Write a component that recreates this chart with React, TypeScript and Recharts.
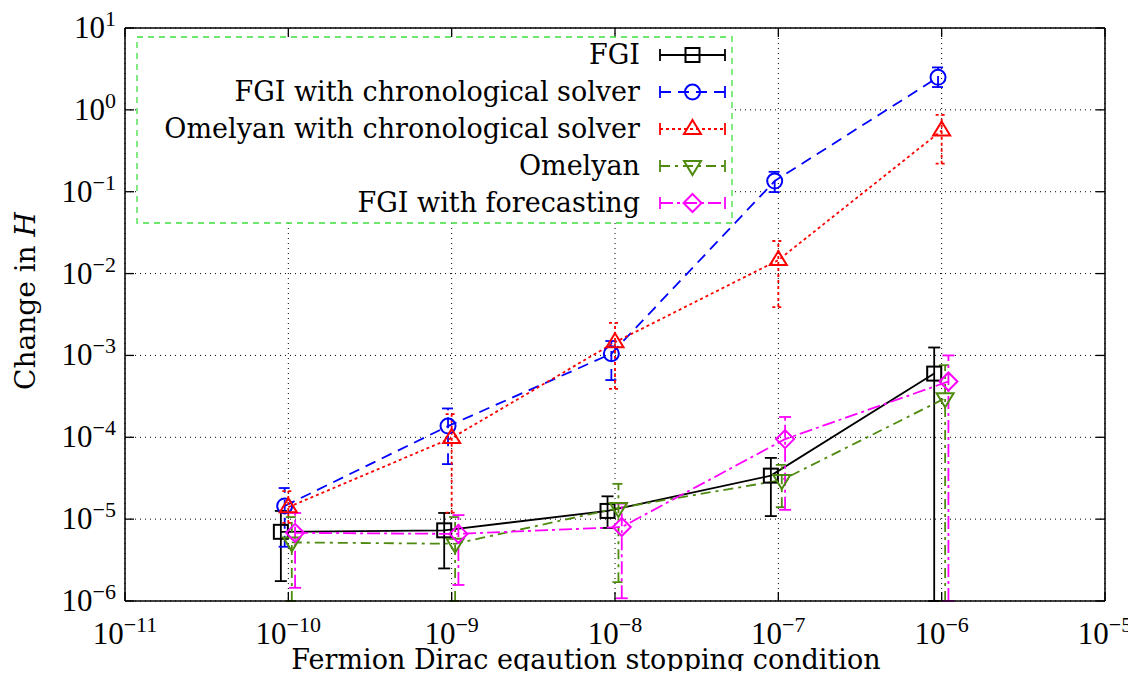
import React from "react"
import { ComposedChart, Line, XAxis, YAxis, CartesianGrid, ErrorBar } from "recharts"

// axis ticks (decades)
const xTicks = [1e-11, 1e-10, 1e-9, 1e-8, 1e-7, 1e-6, 1e-5]
const yTicks = [1e-6, 1e-5, 1e-4, 1e-3, 1e-2, 1e-1, 1e0, 1e1]

// FGI
const fgiX = [0.9e-10, 0.9e-9, 0.9e-8, 0.9e-7, 0.9e-6]
const fgiY = [7.0e-6, 7.3e-6, 1.26e-5, 3.4e-5, 6.0e-4]
const fgiLo = [1.75e-6, 2.5e-6, 7.8e-6, 1.09e-5, 1e-6]
const fgiHi = [1.26e-5, 1.19e-5, 1.9e-5, 5.6e-5, 1.25e-3]

// FGI with chronological solver
const fgiChronoX = [0.95e-10, 0.95e-9, 0.95e-8, 0.95e-7, 0.95e-6]
const fgiChronoY = [1.45e-5, 1.37e-4, 1.05e-3, 0.135, 2.5]
const fgiChronoLo = [4.6e-6, 4.7e-5, 5.0e-4, 0.099, 1.9]
const fgiChronoHi = [2.4e-5, 2.25e-4, 1.5e-3, 0.175, 3.3]

// Omelyan with chronological solver
const omChronoX = [1.0e-10, 1.0e-9, 1.0e-8, 1.0e-7, 1.0e-6]
const omChronoY = [1.4e-5, 9.8e-5, 1.45e-3, 0.0146, 0.56]
const omChronoLo = [9e-6, 1.2e-5, 3.9e-4, 3.9e-3, 0.22]
const omChronoHi = [2.2e-5, 1.92e-4, 2.5e-3, 0.025, 0.87]

// Omelyan
const omX = [1.05e-10, 1.05e-9, 1.05e-8, 1.05e-7, 1.05e-6]
const omY = [5.2e-6, 5.0e-6, 1.37e-5, 3.0e-5, 3.0e-4]
const omLo = [1e-6, 1e-6, 1.7e-6, 1.4e-5, 1e-6]
const omHi = [1.06e-5, 1.06e-5, 2.7e-5, 4.6e-5, 7.6e-4]

// FGI with forecasting
const forecastX = [1.1e-10, 1.1e-9, 1.1e-8, 1.1e-7, 1.1e-6]
const forecastY = [6.8e-6, 6.6e-6, 8.0e-6, 9.5e-5, 4.8e-4]
const forecastLo = [1.45e-6, 1.57e-6, 1.08e-6, 1.3e-5, 1e-6]
const forecastHi = [1.19e-5, 1.12e-5, 1.55e-5, 1.77e-4, 1.0e-3]

type Pt = { x: number; y: number; lo: number; hi: number }

function toPoints(xs: number[], ys: number[], lo: number[], hi: number[]): Pt[] {
  return xs.map((x, i) => ({ x, y: ys[i], lo: lo[i], hi: hi[i] }))
}

const series = [
  { name: "FGI", color: "#000000", dash: undefined, marker: "square", data: toPoints(fgiX, fgiY, fgiLo, fgiHi) },
  { name: "FGI with chronological solver", color: "#0000ff", dash: "11 7", marker: "circle", data: toPoints(fgiChronoX, fgiChronoY, fgiChronoLo, fgiChronoHi) },
  { name: "Omelyan with chronological solver", color: "#ff0000", dash: "3 3", marker: "triUp", data: toPoints(omChronoX, omChronoY, omChronoLo, omChronoHi) },
  { name: "Omelyan", color: "#4f8a10", dash: "10 5 3 5", marker: "triDown", data: toPoints(omX, omY, omLo, omHi) },
  { name: "FGI with forecasting", color: "#ff00ff", dash: "13 4 3 4", marker: "diamond", data: toPoints(forecastX, forecastY, forecastLo, forecastHi) },
]

const SERIF = "'DejaVu Serif', serif"
const TICK_FONT = "'Liberation Serif', serif"

function Marker({ kind, cx, cy, color }: { kind: string; cx: number; cy: number; color: string }) {
  const common = { fill: "none", stroke: color, strokeWidth: 2 }
  if (kind === "square") return <rect x={cx - 7} y={cy - 7} width={14} height={14} {...common} />
  if (kind === "circle") return <circle cx={cx} cy={cy} r={7.5} {...common} />
  if (kind === "triUp") return <path d={`M${cx},${cy - 9}L${cx + 8.5},${cy + 5}L${cx - 8.5},${cy + 5}Z`} {...common} />
  if (kind === "triDown") return <path d={`M${cx},${cy + 9}L${cx + 8.5},${cy - 5}L${cx - 8.5},${cy - 5}Z`} {...common} />
  return <path d={`M${cx},${cy - 9}L${cx + 9},${cy}L${cx},${cy + 9}L${cx - 9},${cy}Z`} {...common} />
}

function expLabel(v: number) {
  const e = Math.round(Math.log10(v))
  return e < 0 ? "\u2212" + -e : String(e)
}

const BottomTick = (props: any) => {
  const { x, y, payload } = props
  return (
    <g>
      <line x1={x} y1={y} x2={x} y2={y - 9} stroke="#000" strokeWidth={1.3} />
      <text x={x} y={y + 43} textAnchor="middle" fontFamily={TICK_FONT} fontSize={31} fill="#000">
        10<tspan dy={-12} fontSize={22}>{expLabel(payload.value)}</tspan>
      </text>
    </g>
  )
}

const TopTick = (props: any) => {
  const { x, y } = props
  return <line x1={x} y1={y} x2={x} y2={y + 9} stroke="#000" strokeWidth={1.3} />
}

const LeftTick = (props: any) => {
  const { x, y, payload } = props
  return (
    <g>
      <line x1={x} y1={y} x2={x + 9} y2={y} stroke="#000" strokeWidth={1.3} />
      <text x={x - 9} y={y + 10} textAnchor="end" fontFamily={TICK_FONT} fontSize={31} fill="#000">
        10<tspan dy={-12} fontSize={22}>{expLabel(payload.value)}</tspan>
      </text>
    </g>
  )
}

const RightTick = (props: any) => {
  const { x, y } = props
  return <line x1={x} y1={y} x2={x - 9} y2={y} stroke="#000" strokeWidth={1.3} />
}

function LegendBox() {
  const rowY = [47, 84, 121, 158, 195]
  return (
    <g>
      <rect x={129} y={29} width={595} height={186} fill="#fff" stroke="#3fe03f" strokeWidth={1.3} strokeDasharray="6 5" />
      {series.map((s, i) => {
        const cy = rowY[i]
        return (
          <g key={s.name}>
            <text x={632} y={cy + 9} textAnchor="end" fontFamily={SERIF} fontSize={27} fill="#000">
              {s.name}
            </text>
            <line x1={652} y1={cy} x2={717} y2={cy} stroke={s.color} strokeWidth={1.8} strokeDasharray={s.dash} />
            <line x1={652} y1={cy - 6} x2={652} y2={cy + 6} stroke={s.color} strokeWidth={1.8} />
            <line x1={717} y1={cy - 6} x2={717} y2={cy + 6} stroke={s.color} strokeWidth={1.8} />
            <Marker kind={s.marker} cx={684.5} cy={cy} color={s.color} />
          </g>
        )
      })}
    </g>
  )
}

export default function App() {
  return (
    <div style={{ position: "relative", width: 1120, height: 663 }}>
      <style>{".recharts-surface { overflow: visible; }"}</style>
      <ComposedChart width={1120} height={663} margin={{ top: 12, right: 15, bottom: 10, left: 8 }}>
        <CartesianGrid stroke="#000" strokeDasharray="1 4" strokeWidth={1} />
        <XAxis
          dataKey="x"
          type="number"
          scale="log"
          domain={[1e-11, 1e-5]}
          ticks={xTicks}
          interval={0}
          allowDataOverflow
          height={60}
          tickSize={0}
          tickMargin={0}
          tick={BottomTick}
          axisLine={{ stroke: "#000", strokeWidth: 1.5 }}
        />
        <XAxis
          xAxisId="top"
          orientation="top"
          dataKey="x"
          type="number"
          scale="log"
          domain={[1e-11, 1e-5]}
          ticks={xTicks}
          interval={0}
          allowDataOverflow
          height={8}
          tickSize={0}
          tickMargin={0}
          tick={TopTick}
          axisLine={{ stroke: "#000", strokeWidth: 1.5 }}
        />
        <YAxis
          type="number"
          scale="log"
          domain={[1e-6, 10]}
          ticks={yTicks}
          interval={0}
          allowDataOverflow
          width={109}
          tickSize={0}
          tickMargin={0}
          tick={LeftTick}
          axisLine={{ stroke: "#000", strokeWidth: 1.5 }}
        />
        <YAxis
          yAxisId="right"
          orientation="right"
          type="number"
          scale="log"
          domain={[1e-6, 10]}
          ticks={yTicks}
          interval={0}
          allowDataOverflow
          width={8}
          tickSize={0}
          tickMargin={0}
          tick={RightTick}
          axisLine={{ stroke: "#000", strokeWidth: 1.5 }}
        />
        {series.map((s) => (
          <Line
            key={s.name}
            name={s.name}
            data={s.data}
            dataKey="y"
            type="linear"
            stroke={s.color}
            strokeWidth={1.8}
            strokeDasharray={s.dash}
            isAnimationActive={false}
            activeDot={false}
            legendType="none"
            dot={(p: any) => <Marker key={p.index} kind={s.marker} cx={p.cx} cy={p.cy} color={s.color} />}
          >
            <ErrorBar
              dataKey={(d: Pt) => [d.y - d.lo, d.hi - d.y]}
              direction="y"
              width={6}
              stroke={s.color}
              strokeWidth={1.8}
              strokeDasharray={s.dash}
              isAnimationActive={false}
            />
          </Line>
        ))}
      </ComposedChart>
      <svg
        width={1120}
        height={671}
        style={{ position: "absolute", left: 0, top: 0, pointerEvents: "none", overflow: "visible" }}
      >
        <LegendBox />
        <text
          transform="translate(27,293) rotate(-90)"
          textAnchor="middle"
          fontFamily={SERIF}
          fontSize={28}
          fill="#000"
        >
          Change in <tspan fontStyle="italic">H</tspan>
        </text>
        <text x={578} y={661} textAnchor="middle" fontFamily={SERIF} fontSize={27} fill="#000">
          Fermion Dirac eqaution stopping condition
        </text>
      </svg>
    </div>
  )
}
